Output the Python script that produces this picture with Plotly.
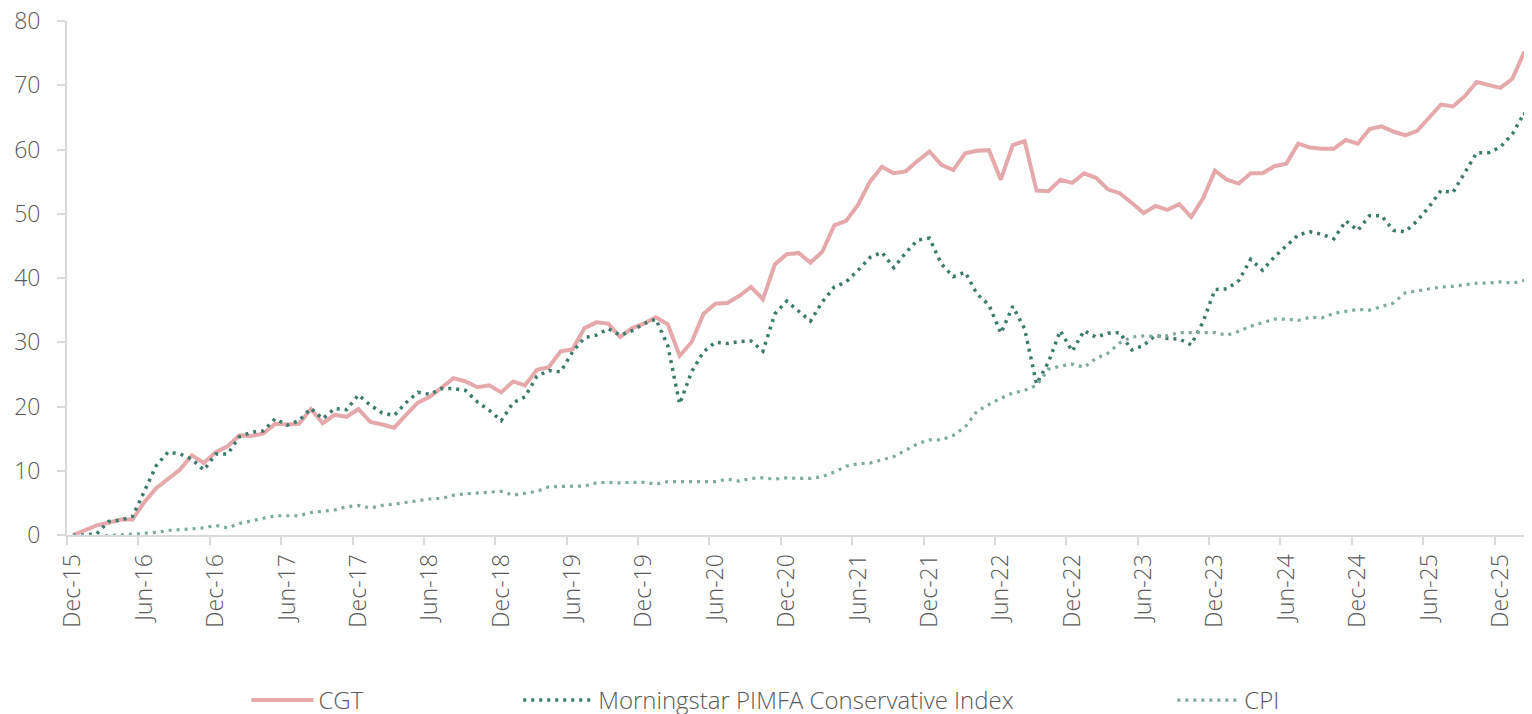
import pandas as pd
import plotly.graph_objects as go

# ---------------------------------------------------------
# Data (monthly, cumulative % growth from Dec-15)
# ---------------------------------------------------------
months = [d.strftime("%b-%y") for d in pd.date_range("2015-12-01", "2026-03-01", freq="MS")]

cgt = [
    0.0, 0.7, 1.5, 1.9, 2.4, 2.4, 5.1, 7.3, 8.8, 10.2,
    12.4, 11.2, 12.9, 13.8, 15.5, 15.4, 15.8, 17.3, 17.2, 17.3,
    19.6, 17.4, 18.7, 18.4, 19.6, 17.6, 17.2, 16.7, 18.7, 20.6,
    21.5, 22.9, 24.4, 23.9, 23.0, 23.3, 22.2, 23.9, 23.3, 25.7,
    26.1, 28.6, 28.9, 32.2, 33.1, 32.9, 30.8, 32.2, 32.9, 33.9,
    32.8, 27.9, 30.0, 34.4, 36.0, 36.1, 37.2, 38.6, 36.7, 42.1,
    43.7, 43.9, 42.4, 44.1, 48.2, 48.9, 51.4, 55.0, 57.3, 56.3,
    56.6, 58.2, 59.7, 57.6, 56.8, 59.4, 59.8, 59.9, 55.3, 60.7,
    61.3, 53.6, 53.5, 55.3, 54.8, 56.3, 55.6, 53.8, 53.2, 51.7,
    50.1, 51.2, 50.6, 51.5, 49.5, 52.4, 56.7, 55.3, 54.7, 56.3,
    56.3, 57.4, 57.8, 60.9, 60.3, 60.1, 60.1, 61.5, 60.9, 63.2,
    63.6, 62.8, 62.2, 62.9, 64.9, 67.0, 66.7, 68.3, 70.5, 70.0,
    69.6, 71.0, 75.2, 71.8,
]

morningstar = [
    0.0, 0.0, 0.2, 2.1, 2.3, 2.9, 6.8, 10.8, 12.9, 12.6,
    11.8, 10.1, 12.6, 12.6, 15.3, 16.0, 16.2, 18.1, 17.1, 17.8,
    19.7, 18.1, 19.7, 19.5, 21.8, 20.2, 19.0, 18.6, 20.6, 22.2,
    21.9, 22.8, 22.8, 22.5, 20.7, 19.4, 17.8, 20.6, 21.5, 24.7,
    25.6, 25.4, 28.5, 30.7, 31.1, 32.1, 31.1, 31.8, 32.9, 33.6,
    29.5, 20.4, 25.4, 28.5, 30.0, 29.8, 30.1, 30.2, 28.6, 34.4,
    36.4, 34.9, 33.3, 36.3, 38.6, 39.4, 41.2, 43.2, 44.0, 41.6,
    43.9, 45.9, 46.2, 42.2, 40.2, 40.9, 37.5, 35.8, 31.4, 35.6,
    32.1, 23.5, 26.9, 31.8, 28.6, 31.8, 30.8, 31.4, 31.5, 28.8,
    29.5, 31.1, 30.6, 30.5, 29.6, 33.2, 38.2, 38.3, 39.6, 42.9,
    41.2, 43.3, 45.0, 46.7, 47.2, 46.8, 46.1, 48.9, 47.4, 49.7,
    49.7, 47.4, 47.2, 48.9, 51.1, 53.6, 53.3, 56.3, 59.5, 59.5,
    60.4, 62.4, 65.7, 60.0,
]

cpi = [
    0.0, -0.1, -0.2, -0.1, 0.0, 0.1, 0.2, 0.4, 0.7, 0.8,
    0.9, 1.1, 1.5, 1.1, 1.8, 2.2, 2.7, 3.0, 3.0, 3.0,
    3.5, 3.7, 3.9, 4.4, 4.6, 4.2, 4.6, 4.8, 5.1, 5.4,
    5.6, 5.7, 6.2, 6.4, 6.5, 6.7, 6.8, 6.2, 6.5, 6.8,
    7.5, 7.6, 7.6, 7.6, 8.1, 8.2, 8.1, 8.2, 8.2, 7.9,
    8.3, 8.3, 8.3, 8.3, 8.3, 8.7, 8.4, 8.8, 8.9, 8.7,
    8.9, 8.8, 8.8, 9.1, 9.8, 10.7, 11.1, 11.2, 11.7, 12.2,
    13.2, 14.2, 14.8, 14.8, 15.5, 16.8, 19.3, 20.3, 21.3, 22.1,
    22.5, 23.3, 25.8, 26.3, 26.6, 26.1, 27.5, 28.3, 29.9, 30.8,
    31.0, 30.9, 31.0, 31.5, 31.5, 31.4, 31.5, 31.1, 31.7, 32.5,
    33.0, 33.6, 33.6, 33.4, 33.9, 33.8, 34.5, 34.8, 35.1, 35.0,
    35.5, 36.1, 37.7, 38.0, 38.4, 38.6, 38.7, 38.9, 39.2, 39.2,
    39.4, 39.2, 39.6, 39.8,
]

y_ticks = [0, 10, 20, 30, 40, 50, 60, 70, 80]

# ---------------------------------------------------------
# Style
# ---------------------------------------------------------
CGT_COLOR = "#E5A9AD"
MS_COLOR = "#3D7A6E"
CPI_COLOR = "#7FA9A0"
AXIS_COLOR = "#D9D9D9"
TEXT_COLOR = "#595959"
FONT = "Open Sans"

idx = list(range(len(months)))
# ticks sit on category boundaries, labels every 6 months
tick_pos = [i - 0.5 for i in idx[::6]][:21]
tick_txt = months[::6][:21]

fig = go.Figure()

fig.add_trace(go.Scatter(
    x=idx, y=cgt, name="CGT", mode="lines",
    line=dict(color=CGT_COLOR, width=4),
    text=months, hovertemplate="%{text}: %{y}<extra>CGT</extra>",
    legend="legend",
))
fig.add_trace(go.Scatter(
    x=idx, y=morningstar, name="Morningstar PIMFA Conservative Index", mode="lines",
    line=dict(color=MS_COLOR, width=3.5, dash="3px,5px"),
    text=months, hovertemplate="%{text}: %{y}<extra>Morningstar</extra>",
    legend="legend2",
))
fig.add_trace(go.Scatter(
    x=idx, y=cpi, name="CPI", mode="lines",
    line=dict(color=CPI_COLOR, width=3.2, dash="3px,5px"),
    text=months, hovertemplate="%{text}: %{y}<extra>CPI</extra>",
    legend="legend3",
))

legend_base = dict(
    orientation="h",
    yanchor="middle",
    y=-0.322,
    xanchor="left",
    itemwidth=62,
    font=dict(family=FONT, size=24, color=TEXT_COLOR, weight=300),
    bgcolor="rgba(0,0,0,0)",
)

# the page body adds an 8px offset, so the figure is 8px smaller than the window
fig.update_layout(
    width=1524,
    height=706,
    paper_bgcolor="#FFFFFF",
    plot_bgcolor="#FFFFFF",
    margin=dict(l=59, r=0, t=13, b=179, autoexpand=False),
    font=dict(family=FONT, size=22, color=TEXT_COLOR, weight=300),
    showlegend=True,
    legend=dict(legend_base, x=0.1225),
    legend2=dict(legend_base, x=0.308, itemwidth=70),
    legend3=dict(legend_base, x=0.7545),
)

fig.update_xaxes(
    range=[-0.5, 122.65],
    automargin=False,
    tickmode="array",
    tickvals=tick_pos,
    ticktext=tick_txt,
    tickangle=-90,
    ticklabelshift=6,
    ticklabeloverflow="allow",
    ticks="outside",
    ticklen=8,
    tickwidth=2,
    tickcolor=AXIS_COLOR,
    showline=True,
    linecolor=AXIS_COLOR,
    linewidth=2,
    showgrid=False,
    zeroline=False,
    tickfont=dict(family=FONT, size=23, color=TEXT_COLOR, weight=300),
)

fig.update_yaxes(
    range=[0, 80],
    automargin=False,
    tickmode="array",
    tickvals=y_ticks,
    ticklabeloverflow="allow",
    ticks="outside",
    ticklen=8,
    tickwidth=2,
    tickcolor=AXIS_COLOR,
    showline=True,
    linecolor=AXIS_COLOR,
    linewidth=2,
    showgrid=False,
    zeroline=False,
    ticklabelstandoff=12,
    tickfont=dict(family=FONT, size=23, color=TEXT_COLOR, weight=300),
)

fig.write_html("out.html")
